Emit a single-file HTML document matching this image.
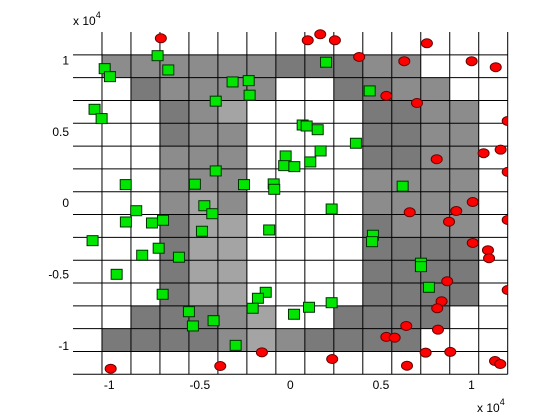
<!DOCTYPE html>
<html><head><meta charset="utf-8"><style>
html,body{margin:0;padding:0;background:#fff;}
svg{display:block;font-family:"Liberation Sans",Arial,sans-serif;}
</style></head><body>
<svg id="chart" width="560" height="420" xmlns="http://www.w3.org/2000/svg">
<defs><clipPath id="clipx"><rect x="73" y="0" width="434.7" height="420"/></clipPath></defs>
<g id="cells"></g>
<g id="grid"></g>
<g id="ticks"></g>
<g id="pts" clip-path="url(#clipx)"></g>
<text x="73" y="25" font-size="12">x 10<tspan font-size="9" dy="-7">4</tspan></text>
<text x="477" y="412" font-size="12">x 10<tspan font-size="9" dy="-7">4</tspan></text>
</svg>
<script>
// cell shades: rows top->bottom, cols left->right; 0 white, 1 dark, 2 medium, 3 light
const cellShades = [
"000000000000000",
"022222211122000",
"001222200112200",
"000123000011220",
"000122000011220",
"000222000011220",
"000222000022220",
"000232000022220",
"000133000012220",
"000133000011110",
"000133000011110",
"000133000011110",
"001112300111100",
"011112321111000",
"000000000000000"
];
const xTicks = [-1, -0.5, 0, 0.5, 1];
const xTickLabels = ["-1", "-0.5", "0", "0.5", "1"];
const yTicks = [1, 0.5, 0, -0.5, -1];
const yTickLabels = ["1", "0.5", "0", "-0.5", "-1"];
const greenX = [-0.733,-1.025,-0.996,-0.674,-0.319,-0.230,-0.225,-0.412,-1.081,-1.042,0.068,0.090,0.151,0.362,0.167,-0.026,-0.034,0.022,0.110,-0.412,-0.909,-0.527,-0.256,-0.092,-0.089,0.438,0.197,0.620,0.228,-0.475,-0.431,-0.851,-0.908,-0.764,-0.703,-0.488,-0.117,-1.092,-0.818,-0.727,-0.615,-0.959,-0.705,-0.136,-0.179,-0.208,0.020,-0.560,-0.424,-0.538,-0.302,0.456,0.451,0.721,0.721,0.765,0.228,0.103];
const greenY = [1.034,0.943,0.887,0.934,0.850,0.859,0.757,0.715,0.658,0.593,0.548,0.541,0.515,0.420,0.366,0.331,0.263,0.256,0.289,0.226,0.130,0.133,0.130,0.135,0.097,0.787,0.988,0.119,-0.041,-0.018,-0.074,-0.053,-0.132,-0.139,-0.120,-0.197,-0.188,-0.263,-0.365,-0.316,-0.379,-0.499,-0.639,-0.625,-0.667,-0.737,-0.779,-0.761,-0.824,-0.861,-0.997,-0.225,-0.270,-0.421,-0.445,-0.590,-0.698,-0.730];
const redX = [-0.715,0.096,0.165,0.246,0.754,0.380,0.629,1.001,1.134,0.530,0.699,1.200,1.067,1.161,0.808,1.200,1.007,0.659,0.916,0.876,1.200,1.007,1.091,1.097,1.200,0.866,0.835,0.811,0.640,0.530,0.576,0.815,0.747,0.883,0.231,0.644,1.130,1.159,-0.992,-0.387,-0.157];
const redY = [1.156,1.142,1.184,1.142,1.121,1.025,0.995,0.995,0.953,0.752,0.702,0.576,0.350,0.375,0.308,0.219,0.008,-0.064,-0.055,-0.130,-0.118,-0.279,-0.330,-0.386,-0.609,-0.548,-0.688,-0.737,-0.861,-0.938,-0.943,-0.887,-1.048,-1.043,-1.093,-1.140,-1.107,-1.128,-1.161,-1.142,-1.046];

const NS = "http://www.w3.org/2000/svg";
const L = 73, R = 507.7, T = 32, B = 374.3;
const xs = v => L + (v + 1.2) / 2.4 * (R - L);
const ys = v => T + (1.2 - v) / 2.4 * (B - T);
const shadeColor = ["#ffffff", "#7a7a7a", "#8c8c8c", "#a4a4a4"];
function mk(tag, attrs, parent) {
  const e = document.createElementNS(NS, tag);
  for (const k in attrs) e.setAttribute(k, attrs[k]);
  parent.appendChild(e);
  return e;
}
const cellsG = document.getElementById("cells");
const step = 0.16;
for (let r = 0; r < cellShades.length; r++) {
  for (let c = 0; c < cellShades[r].length; c++) {
    const s = +cellShades[r][c];
    if (!s) continue;
    const x0 = -1.2 + c * step, y1 = 1.2 - r * step;
    const e = mk("rect", {x: xs(x0), y: ys(y1), width: xs(x0 + step) - xs(x0) + 0.3, height: ys(y1 - step) - ys(y1) + 0.3, fill: shadeColor[s]}, cellsG);
    
    
  }
}
const gridG = document.getElementById("grid");
for (let k = 0; k <= 14; k++) {
  const xv = -1.04 + k * step;
  const v = mk("line", {x1: xs(xv), x2: xs(xv), y1: T, y2: B, stroke: "#000", "stroke-width": 1}, gridG);
  
  
  const yv = -1.2 + k * step;
  const h = mk("line", {x1: L, x2: R, y1: ys(yv), y2: ys(yv), stroke: "#000", "stroke-width": 1}, gridG);
  
  
}
const ticksG = document.getElementById("ticks");
xTicks.forEach((v, i) => {
  const t = mk("text", {x: xs(v), y: 389, "font-size": 12, "text-anchor": "middle"}, ticksG);
  t.textContent = xTickLabels[i];
  
  
});
yTicks.forEach((v, i) => {
  const t = mk("text", {x: 69, y: ys(v) + 4, "font-size": 12, "text-anchor": "end"}, ticksG);
  t.textContent = yTickLabels[i];
  
  
});
const ptsG = document.getElementById("pts");
greenX.forEach((v, i) => {
  const e = mk("rect", {x: xs(v) - 5.5, y: ys(greenY[i]) - 5, width: 11, height: 10, fill: "#00e600", stroke: "#003300", "stroke-width": 1}, ptsG);
  
  
});
redX.forEach((v, i) => {
  const e = mk("ellipse", {cx: xs(v), cy: ys(redY[i]), rx: 5.5, ry: 4.5, fill: "#ff0000", stroke: "#660000", "stroke-width": 1}, ptsG);
  
  
});
</script>
</body></html>
